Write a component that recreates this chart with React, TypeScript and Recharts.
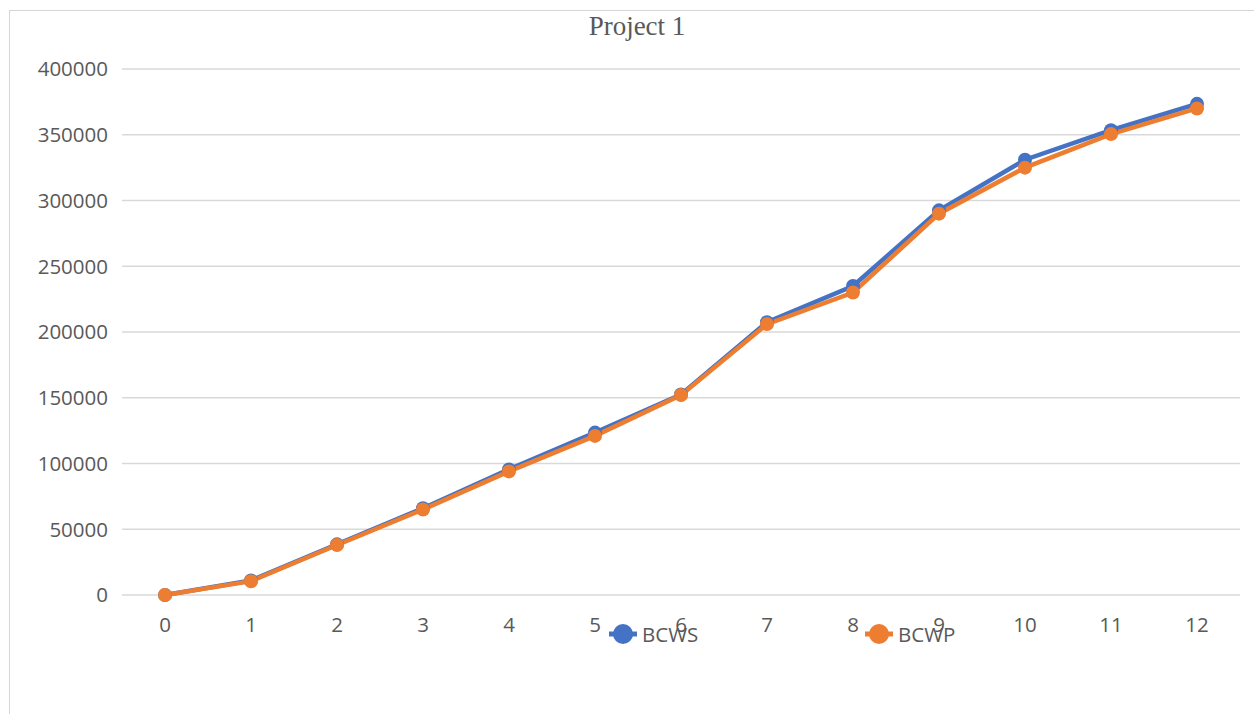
import React from "react";
import { CartesianGrid, Legend, Line, LineChart, XAxis, YAxis } from "recharts";

const periods = ["0", "1", "2", "3", "4", "5", "6", "7", "8", "9", "10", "11", "12"];
const bcws = [0, 11000, 38500, 66000, 95500, 123500, 152500, 207500, 235000, 292500, 331000, 353500, 373500];
const bcwp = [0, 10500, 38000, 65000, 94000, 121000, 152000, 206000, 230000, 290000, 325000, 350500, 370000];
const yTicks = [0, 50000, 100000, 150000, 200000, 250000, 300000, 350000, 400000];
const seriesOrder = ["BCWS", "BCWP"];

const rows = periods.map((p, i) => ({ period: p, BCWS: bcws[i], BCWP: bcwp[i] }));

const tekst = "#595959";
const font = "'Open Sans', 'Liberation Sans', sans-serif";

// legenda som i Excel-bilden, två poster med fast avstånd
// eslint-disable-next-line @typescript-eslint/no-explicit-any
const renderLegend = (props: any) => {
  // eslint-disable-next-line @typescript-eslint/no-explicit-any
  const items = [...props.payload].sort((a: any, b: any) => seriesOrder.indexOf(a.value) - seriesOrder.indexOf(b.value));
  return (
    <div style={{ display: "flex" }}>
      {/* eslint-disable-next-line @typescript-eslint/no-explicit-any */}
      {items.map((entry: any) => (
        <div key={entry.value} style={{ width: 256, display: "flex", alignItems: "center" }}>
          <svg width={32} height={24}>
            <line x1={2} y1={12} x2={30} y2={12} stroke={entry.color} strokeWidth={5} />
            <circle cx={16} cy={12} r={10} fill={entry.color} />
          </svg>
          <span style={{ fontFamily: font, fontSize: 20.5, color: tekst, marginLeft: 3 }}>{entry.value}</span>
        </div>
      ))}
    </div>
  );
};

const App: React.FC = () => {
  return (
    <div style={{ position: "absolute", left: 0, top: 0, width: 1254, height: 714, background: "#fff" }}>
      <div
        style={{
          position: "absolute",
          left: 9,
          top: 10,
          width: 1250,
          height: 710,
          borderTop: "1px solid #d6d6d6",
          borderLeft: "1px solid #d6d6d6",
        }}
      />
      <div
        style={{
          position: "absolute",
          left: 0,
          top: 13,
          width: 1274,
          textAlign: "center",
          fontFamily: "'Liberation Serif', 'Times New Roman', serif",
          fontSize: 27,
          lineHeight: "27px",
          color: tekst,
        }}
      >
        Project 1
      </div>
      <div style={{ position: "absolute", left: 0, top: 0 }}>
        <LineChart width={1254} height={714} data={rows} margin={{ top: 69, right: 14, bottom: 79, left: 0 }}>
          <CartesianGrid vertical={false} stroke="#d9d9d9" strokeWidth={1.3} />
          <XAxis
            dataKey="period"
            axisLine={false}
            tickLine={false}
            tickSize={0}
            tickMargin={22}
            height={40}
            padding={{ left: 43, right: 43 }}
            tick={{ fill: tekst, fontSize: 20.5, fontFamily: font }}
          />
          <YAxis
            domain={[0, 400000]}
            ticks={yTicks}
            axisLine={false}
            tickLine={false}
            tickSize={0}
            tickMargin={14}
            width={122}
            interval={0}
            tick={{ fill: tekst, fontSize: 20.5, fontFamily: font }}
          />
          <Legend
            layout="horizontal"
            verticalAlign="middle"
            align="center"
            content={renderLegend}
            wrapperStyle={{ position: "absolute", left: 607, top: 620, width: 520 }}
          />
          <Line
            dataKey="BCWS"
            stroke="#4472c4"
            strokeWidth={4.5}
            dot={{ r: 7, fill: "#4472c4", stroke: "none" }}
            isAnimationActive={false}
          />
          <Line
            dataKey="BCWP"
            stroke="#ed7d31"
            strokeWidth={4.5}
            dot={{ r: 7, fill: "#ed7d31", stroke: "none" }}
            isAnimationActive={false}
          />
        </LineChart>
      </div>
    </div>
  );
};

export default App;
